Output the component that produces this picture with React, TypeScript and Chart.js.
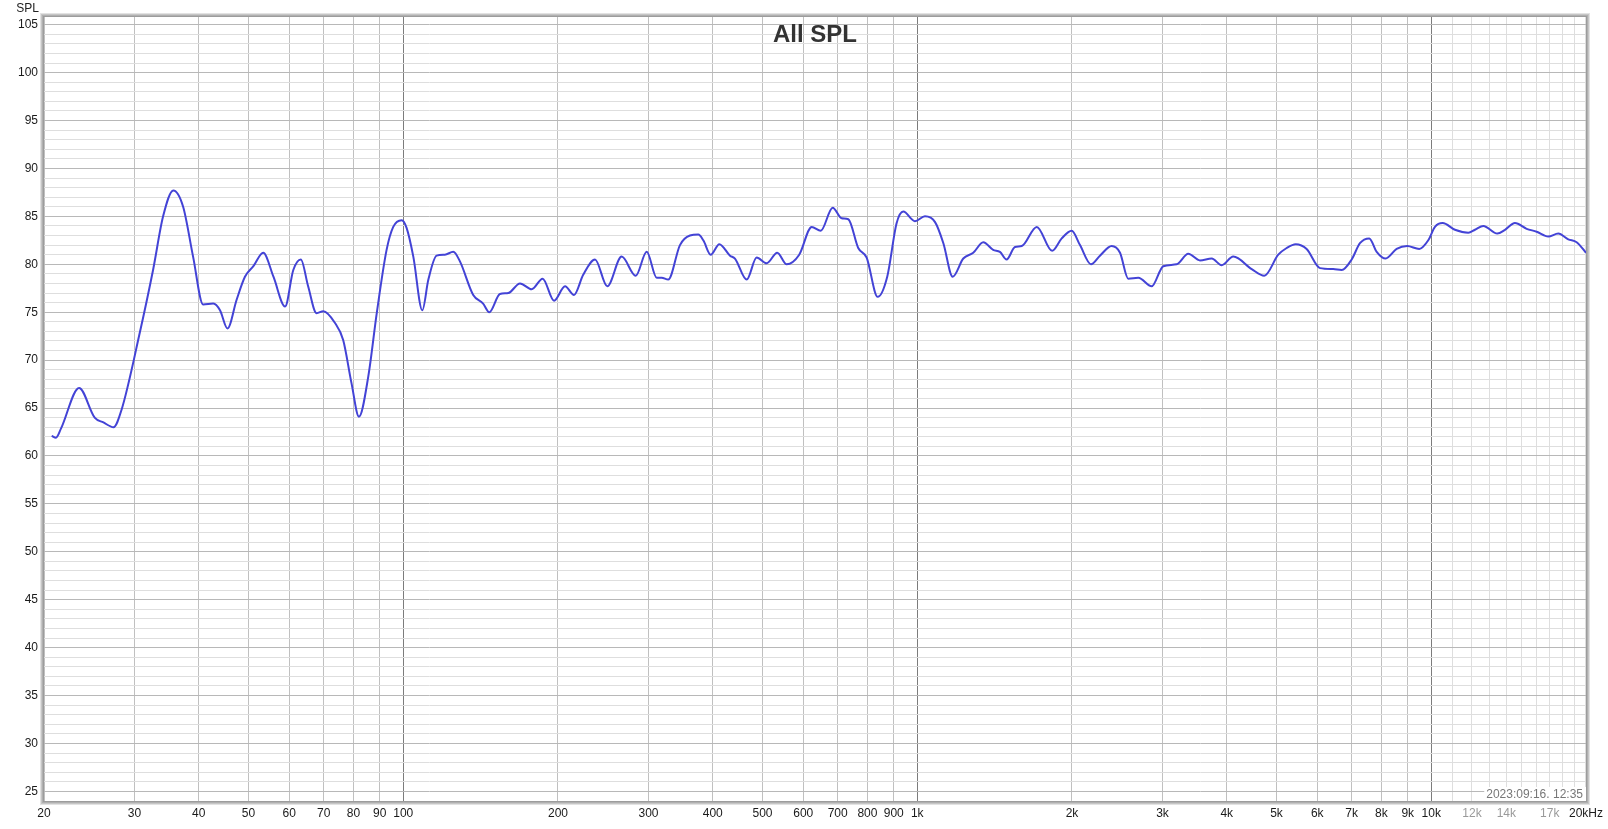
import React, { useEffect, useRef } from 'react';
import { Chart, registerables } from 'chart.js';

Chart.register(...registerables);

const frequencies = [
  20.7, 21.1, 21.6, 23.4, 25.1, 26.1, 27.3, 28.3, 30.7, 32.6, 34.1, 35.7, 37.3, 39.0, 40.8, 42.7, 44.0, 45.5, 47.4, 49.2,
  51.1, 53.4, 55.9, 58.9, 61.1, 63.2, 65.3, 67.8, 69.9, 73.6, 76.4, 79.3, 82.0, 85.5, 88.8, 92.8, 95.6, 99.3, 101.5, 104.6,
  108.9, 111.9, 116.1, 120.5, 125.1, 128.9, 136.8, 143.0, 147.0, 154.2, 160.1, 168.7, 177.8, 186.7, 196.5, 206.4, 214.9, 223.9, 236.1, 249.4,
  266.0, 283.3, 297.6, 311.2, 318.2, 327.7, 345.4, 361.2, 374.9, 383.5, 396.3, 412.0, 432.2, 441.9, 465.7, 487.0, 509.3, 534.0, 557.0, 589.3,
  623.2, 648.9, 684.6, 712.8, 734.2, 767.6, 797.1, 837.5, 874.1, 911.8, 939.3, 989.7, 1035, 1083, 1124, 1172, 1229, 1285, 1344, 1405,
  1448, 1492, 1549, 1597, 1708, 1830, 1910, 1997, 2073, 2177, 2267, 2389, 2480, 2573, 2692, 2858, 3010, 3196, 3367, 3548,
  3740, 3910, 4119, 4474, 4732, 5039, 5232, 5448, 5722, 6075, 6447, 6694, 7001, 7265, 7575, 7831, 8153, 8563, 8980, 9476,
  9867, 10167, 10524, 11119, 11804, 12162, 12625, 13441, 13914, 14549, 15330, 16034, 16891, 17663, 18475, 19180, 20000,
];

const splValues = [
  62.1, 61.9, 62.9, 67.1, 64.0, 63.5, 63.0, 64.8, 72.8, 79.4, 85.0, 87.7, 86.0, 80.8, 75.8, 75.9, 75.2, 73.3, 76.3, 78.7,
  79.8, 81.2, 78.7, 75.6, 79.4, 80.5, 77.7, 74.9, 75.1, 73.9, 72.1, 67.6, 64.1, 68.3, 74.9, 81.5, 83.9, 84.6, 83.8, 80.8,
  75.2, 78.4, 80.9, 81.0, 81.3, 80.3, 76.8, 75.9, 75.0, 76.9, 77.0, 78.0, 77.4, 78.5, 76.2, 77.7, 76.8, 78.9, 80.5, 77.7,
  80.8, 78.8, 81.3, 78.6, 78.6, 78.4, 82.0, 83.0, 83.1, 82.5, 81.0, 82.1, 80.9, 80.6, 78.4, 80.7, 80.1, 81.2, 80.0, 81.0,
  83.9, 83.5, 85.9, 84.8, 84.7, 81.7, 80.7, 76.6, 78.7, 84.3, 85.5, 84.5, 85.0, 84.4, 82.2, 78.7, 80.6, 81.2, 82.3, 81.5,
  81.3, 80.5, 81.8, 81.9, 83.9, 81.4, 82.7, 83.5, 82.0, 80.0, 80.9, 81.9, 81.2, 78.5, 78.6, 77.7, 79.8, 80.0, 81.1, 80.4,
  80.6, 79.9, 80.8, 79.5, 78.8, 81.0, 81.7, 82.1, 81.6, 79.6, 79.5, 79.4, 80.5, 82.2, 82.7, 81.3, 80.6, 81.6, 81.9, 81.6,
  82.5, 83.9, 84.3, 83.6, 83.3, 83.6, 84.0, 83.2, 83.6, 84.3, 83.7, 83.4, 82.9, 83.2, 82.6, 82.3, 81.2,
];

const xTickValues = [
  20, 30, 40, 50, 60, 70, 80, 90, 100, 200, 300, 400, 500, 600, 700, 800, 900, 1000, 2000, 3000, 4000, 5000, 6000, 7000, 8000, 9000,
  10000, 11000, 12000, 13000, 14000, 15000, 16000, 17000, 18000, 19000, 20000,
];
const xTickLabels = [
  '20', '30', '40', '50', '60', '70', '80', '90', '100', '200', '300', '400', '500', '600', '700', '800', '900', '1k', '2k', '3k', '4k', '5k', '6k', '7k', '8k', '9k',
  '10k', '', '12k', '', '14k', '', '', '17k', '', '', '20kHz',
];
const xMutedLabels = ['12k', '14k', '17k'];
const xDarkLines = [100, 1000, 10000];

const yLabelValues = [25, 30, 35, 40, 45, 50, 55, 60, 65, 70, 75, 80, 85, 90, 95, 100, 105];

const TITLE = 'All SPL';
const Y_NAME = 'SPL';
const STAMP = '2023:09:16. 12:35';
const FONT = '"Liberation Sans", Arial, sans-serif';

export default function App() {
  const ref = useRef<HTMLCanvasElement | null>(null);

  useEffect(() => {
    const canvas = ref.current;
    if (!canvas) return;

    const yGridValues: number[] = [];
    for (let v = 25; v <= 105; v++) yGridValues.push(v);

    const framePlugin = {
      id: 'framePlugin',
      afterDatasetsDraw(chart: any) {
        const { ctx, chartArea: a } = chart;
        ctx.save();
        // timestamp
        ctx.font = `12px ${FONT}`;
        const w = ctx.measureText(STAMP).width;
        ctx.fillStyle = '#ffffff';
        ctx.fillRect(a.right - w - 5, a.bottom - 14, w + 5, 14);
        ctx.fillStyle = '#777777';
        ctx.textAlign = 'right';
        ctx.textBaseline = 'alphabetic';
        ctx.fillText(STAMP, a.right - 3, a.bottom - 3);
        // frame
        const shades = ['#9c9c9c', '#b0b0b0', '#c6c6c6', '#e2e2e2'];
        shades.forEach((c, i) => {
          ctx.strokeStyle = c;
          ctx.lineWidth = 1;
          const o = i + 0.5;
          ctx.strokeRect(a.left - o, a.top - o, a.right - a.left + 2 * o, a.bottom - a.top + 2 * o);
        });
        // title
        ctx.font = `bold 24px ${FONT}`;
        ctx.fillStyle = '#333333';
        ctx.textAlign = 'center';
        ctx.fillText(TITLE, (a.left + a.right) / 2, 42);
        // axis name
        ctx.font = `12px ${FONT}`;
        ctx.fillStyle = '#222222';
        ctx.textAlign = 'right';
        ctx.fillText(Y_NAME, 39, 12);
        ctx.restore();
      },
    };

    const chart = new Chart(canvas, {
      type: 'line',
      data: {
        datasets: [
          {
            data: frequencies.map((f, i) => ({ x: f, y: splValues[i] })),
            borderColor: '#4343d6',
            borderWidth: 2,
            pointRadius: 0,
            fill: false,
            cubicInterpolationMode: 'monotone',
          },
        ],
      },
      options: {
        responsive: false,
        animation: false,
        devicePixelRatio: 1,
        layout: { padding: { top: 17, right: 22, left: 0, bottom: 0 } },
        plugins: { legend: { display: false }, tooltip: { enabled: false }, title: { display: false } },
        scales: {
          x: {
            type: 'logarithmic',
            min: 20,
            max: 20000,
            afterBuildTicks: (scale: any) => {
              scale.ticks = xTickValues.map((v) => ({ value: v }));
            },
            afterFit: (scale: any) => {
              scale.height = 28;
            },
            border: { display: false },
            grid: {
              drawTicks: false,
              color: (ctx: any) => {
                const v = ctx.tick ? ctx.tick.value : 0;
                if (xDarkLines.includes(v)) return '#7c7c7c';
                if (v > 10000) return '#dedede';
                return '#c0c0c0';
              },
            },
            ticks: {
              autoSkip: false,
              maxRotation: 0,
              minRotation: 0,
              padding: 5,
              font: { family: FONT, size: 12 },
              color: (ctx: any) => {
                const i = xTickValues.indexOf(ctx.tick ? ctx.tick.value : -1);
                const lab = i >= 0 ? xTickLabels[i] : '';
                return xMutedLabels.includes(lab) ? '#9a9a9a' : '#1a1a1a';
              },
              callback: (value: any) => {
                const i = xTickValues.indexOf(Number(value));
                return i >= 0 ? xTickLabels[i] : '';
              },
            },
          },
          y: {
            type: 'linear',
            min: 24,
            max: 105.8,
            afterBuildTicks: (scale: any) => {
              scale.ticks = yGridValues.map((v) => ({ value: v }));
            },
            afterFit: (scale: any) => {
              scale.width = 44;
            },
            border: { display: false },
            grid: {
              drawTicks: false,
              color: (ctx: any) => {
                const v = ctx.tick ? ctx.tick.value : 0;
                return yLabelValues.includes(v) ? '#b8b8b8' : '#dedede';
              },
            },
            ticks: {
              autoSkip: false,
              padding: 6,
              font: { family: FONT, size: 12 },
              color: '#1a1a1a',
              callback: (value: any) => (yLabelValues.includes(Number(value)) ? String(value) : ''),
            },
          },
        },
      },
      plugins: [framePlugin],
    } as any);

    return () => chart.destroy();
  }, []);

  return (
    <div style={{ position: 'fixed', left: 0, top: 0, width: 1608, height: 829, background: '#ffffff' }}>
      <canvas ref={ref} width={1608} height={829} style={{ display: 'block' }} />
    </div>
  );
}
